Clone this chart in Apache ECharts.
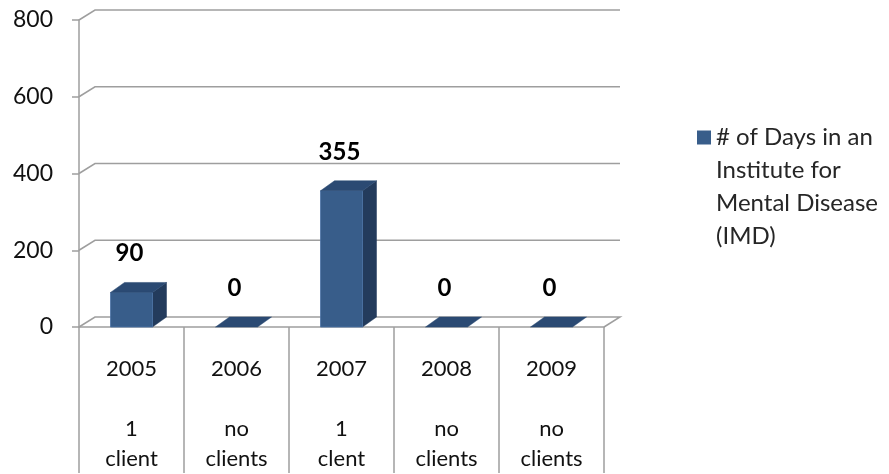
<!DOCTYPE html>
<html>
<head>
<meta charset="utf-8">
<script src="https://cdn.jsdelivr.net/npm/echarts@6/dist/echarts.min.js"></script>
<style>
html,body{margin:0;padding:0;background:#fff;}
#chart{width:889px;height:474px;}
</style>
</head>
<body>
<div id="chart"></div>
<script>
const years = ['2005', '2006', '2007', '2008', '2009'];
const clientCounts = ['1', 'no', '1', 'no', 'no'];
const clientWords = ['client', 'clients', 'clent', 'clients', 'clients'];
const daysInIMD = [90, 0, 355, 0, 0];
const yTicks = [0, 200, 400, 600, 800];
const seriesName = '# of Days in an\nInstitute for\nMental Disease\n(IMD)';

const FONT = 'Lato, "Noto Sans", sans-serif';
const DX = 16, DY = 10;      // back wall depth offset
const BDX = 14, BDY = 10;    // bar depth offset
const FRONT = '#385D8A', SIDE = '#233B5C', TOP = '#2B4A73';
const GRID_COLOR = '#9E9E9E';

const chart = echarts.init(document.getElementById('chart'));

chart.setOption({
  animation: false,
  backgroundColor: '#ffffff',
  grid: { left: 79, right: 285, top: 20, bottom: 146, containLabel: false },
  legend: {
    data: [seriesName],
    orient: 'vertical',
    left: 697,
    top: 22,
    padding: 0,
    icon: 'rect',
    itemWidth: 14,
    itemHeight: 14,
    itemGap: 7,
    formatter: function (name) { return '\n\n\n' + name; },
    textStyle: { fontFamily: FONT, fontSize: 24, color: '#262626', lineHeight: 33 }
  },
  xAxis: {
    type: 'category',
    data: years,
    boundaryGap: true,
    axisLine: { show: true, lineStyle: { color: GRID_COLOR, width: 1.5 } },
    axisTick: { show: true, inside: false, length: 146, lineStyle: { color: GRID_COLOR, width: 1.5 } },
    axisLabel: {
      margin: 27,
      fontFamily: FONT, fontSize: 22, color: '#111111', lineHeight: 30,
      formatter: function (v, i) { return v + '\n\n' + clientCounts[i] + '\n' + clientWords[i]; }
    },
    splitLine: { show: false }
  },
  yAxis: {
    type: 'value',
    min: 0, max: 800, interval: 200,
    axisLine: { show: true, lineStyle: { color: GRID_COLOR, width: 1.5 } },
    axisTick: { show: true, length: 7, lineStyle: { color: GRID_COLOR, width: 1.5 } },
    axisLabel: { margin: 26, fontFamily: FONT, fontSize: 23, color: '#111111' },
    splitLine: { show: false }
  },
  series: [
    {
      type: 'custom',
      name: 'wall',
      silent: true,
      z: 1,
      data: yTicks.map(v => [0, v]),
      renderItem: function (params, api) {
        const cs = params.coordSys;
        const v = api.value(1);
        const p = api.coord([0, v]);
        const x0 = cs.x, x1 = cs.x + cs.width;
        const pts = [[x0, p[1]], [x0 + DX, p[1] - DY], [x1 + DX, p[1] - DY]];
        if (v === 0) pts.push([x1, p[1]]);
        return {
          type: 'polyline',
          shape: { points: pts },
          style: { stroke: GRID_COLOR, lineWidth: 1.5, fill: null }
        };
      }
    },
    {
      type: 'custom',
      name: seriesName,
      z: 3,
      itemStyle: { color: FRONT },
      data: daysInIMD.map((v, i) => [i, v]),
      renderItem: function (params, api) {
        const idx = api.value(0), val = api.value(1);
        const base = api.coord([idx, 0]);
        const top = api.coord([idx, val]);
        const bw = api.size([1, 0])[0] * 0.4;
        const xl = base[0] - bw / 2, xr = base[0] + bw / 2;
        const yb = base[1], yt = top[1];
        const children = [];
        if (val > 0) {
          children.push({
            type: 'polygon',
            shape: { points: [[xr, yt], [xr + BDX, yt - BDY], [xr + BDX, yb - BDY], [xr, yb]] },
            style: { fill: SIDE, stroke: SIDE, lineWidth: 0.5 }
          });
          children.push({
            type: 'rect',
            shape: { x: xl, y: yt, width: bw, height: yb - yt },
            style: { fill: FRONT, stroke: '#4A72A6', lineWidth: 0.8 }
          });
        }
        children.push({
          type: 'polygon',
          shape: { points: [[xl, yt], [xl + BDX, yt - BDY], [xr + BDX, yt - BDY], [xr, yt]] },
          style: { fill: TOP, stroke: TOP, lineWidth: 0.5 }
        });
        children.push({
          type: 'text',
          style: {
            text: String(val),
            x: base[0] - 2, y: yt - 39,
            align: 'center', verticalAlign: 'middle',
            font: 'bold 24px ' + FONT,
            fill: '#000000'
          }
        });
        return { type: 'group', children: children };
      }
    }
  ]
});
</script>
</body>
</html>
